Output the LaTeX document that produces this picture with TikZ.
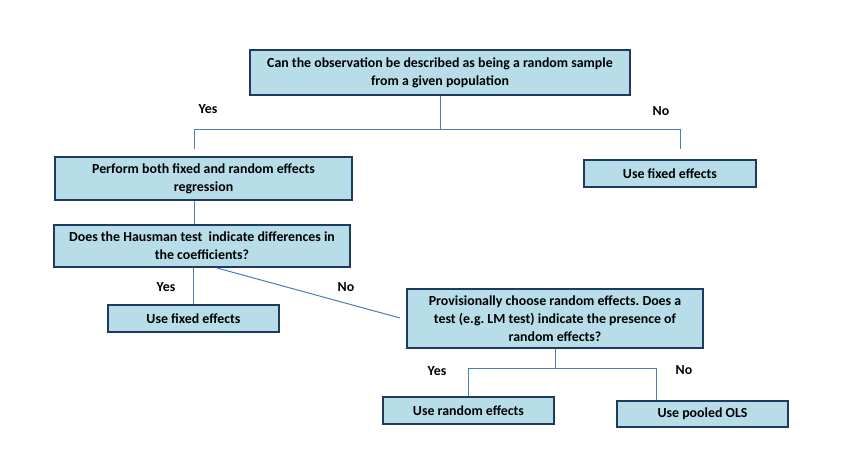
\documentclass[tikz,border=0pt]{standalone}
\usepackage{fontspec}
\setmainfont{Carlito}
\frenchspacing
\definecolor{boxfill}{HTML}{B7DDE8}
\definecolor{boxline}{HTML}{1F3A5F}
\definecolor{linkblue}{HTML}{4A7EBB}
\begin{document}
\begin{tikzpicture}[x=0.75pt, y=-0.75pt,
  box/.style = {shape=rectangle, draw=boxline, line width=1.5pt,
    fill=boxfill, align=center, inner sep=0pt,
    font=\bfseries\fontsize{10.4}{13.5}\selectfont},
  answer/.style = {font=\bfseries\fontsize{10.4}{13.5}\selectfont},
  link/.style = {draw=linkblue, line width=0.75pt}]
  \useasboundingbox (0,0) rectangle (858,470);
  \node[box, minimum width=285pt, minimum height=33.75pt] (sample) at (440,72.5)
    {Can the observation be described as being a random sample\\from a given population};
  \node[box, minimum width=222.75pt, minimum height=32.25pt] (perform) at (203.5,178.5)
    {Perform both fixed and random effects\\regression};
  \node[box, minimum width=129pt, minimum height=20.25pt] (fixedA) at (670,173.5)
    {Use fixed effects};
  \node[box, minimum width=222pt, minimum height=31.5pt] (hausman) at (202,246)
    {Does the Hausman test\ \ indicate differences in\\the coefficients?};
  \node[box, minimum width=128.25pt, minimum height=20.25pt] (fixedB) at (193.5,318.5)
    {Use fixed effects};
  \node[box, minimum width=222pt, minimum height=44.25pt] (provisional) at (555,318.5)
    {Provisionally choose random effects. Does a\\test (e.g. LM test) indicate the presence of\\random effects?};
  \node[box, minimum width=128.25pt, minimum height=20.25pt] (random) at (468.5,410.5)
    {Use random effects};
  \node[box, minimum width=128.25pt, minimum height=19.5pt] (pooled) at (702.5,414)
    {Use pooled OLS};

  \coordinate (yesend) at (194,149);
  \coordinate (noend) at (680,149);
  \coordinate (hausno) at (400,318);
  \draw[link] (sample.south) -- ++(0,34) -| (yesend);
  \draw[link] (sample.south) -- ++(0,34) -| (noend);
  \draw[link] (perform.south -| yesend) -- (hausman.north -| yesend);
  \draw[link] (fixedB.north) -- (fixedB.north |- hausman.south);
  \draw[link] ([xshift=11.25pt]hausman.south) -- (hausno);
  \draw[link] (provisional.south) -- ++(0,20) -| (random.north);
  \draw[link] (provisional.south) -- ++(0,20) -| ([xshift=-34.5pt]pooled.north);

  \node[answer] (yes1) at (208,109) {Yes};
  \node[answer] (no1) at (661,111) {No};
  \node[answer] (yes2) at (166,287) {Yes};
  \node[answer] (no2) at (346,287) {No};
  \node[answer] (yes3) at (437,371) {Yes};
  \node[answer] (no3) at (684,370) {No};
\end{tikzpicture}
\end{document}
